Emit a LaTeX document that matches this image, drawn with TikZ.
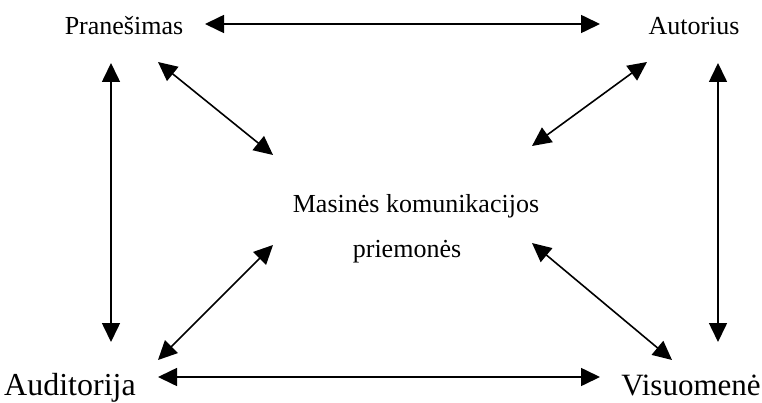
\documentclass[tikz,border=0pt]{standalone}
\usepackage{fontspec}
\setmainfont{Liberation Serif}
\usetikzlibrary{arrows.meta}
\tikzset{
  lbl/.style={inner sep=0pt, anchor=base},
  link/.style={line width=1.6pt, {Triangle[length=19pt,width=18pt]}-{Triangle[length=19pt,width=18pt]}},
}
\begin{document}
\begin{tikzpicture}[x=1pt,y=-1pt]
  \useasboundingbox (0,0) rectangle (762,403);
  % labels
  \node[lbl, font=\fontsize{26}{30}\selectfont] (pran) at (124,35) {Pranešimas};
  \node[lbl, font=\fontsize{26}{30}\selectfont] (aut) at (694,35) {Autorius};
  \node[lbl, font=\fontsize{26}{30}\selectfont] (mid1) at (416,213) {Masinės komunikacijos};
  \node[lbl, font=\fontsize{26}{30}\selectfont] (mid2) at (407,257) {priemonės};
  \node[lbl, font=\fontsize{32}{36}\selectfont] (aud) at (70,395) {Auditorija};
  \node[lbl, font=\fontsize{31}{36}\selectfont] (vis) at (691,395) {Visuomenė};
  % arrow ends
  \coordinate (pR) at (205,24);   \coordinate (aL) at (600,24);
  \coordinate (pD) at (111,63);   \coordinate (audU) at (111,342);
  \coordinate (aD) at (718,63);   \coordinate (visU) at (718,342);
  \coordinate (audR) at (158,377); \coordinate (visL) at (600,377);
  \coordinate (pDR) at (158,62);  \coordinate (mUL) at (273,155);
  \coordinate (aDL) at (647,62);  \coordinate (mUR) at (532,146);
  \coordinate (mLL) at (273,245); \coordinate (audUR) at (158,360);
  \coordinate (mLR) at (532,243); \coordinate (visUL) at (672,360);
  % connectors
  \draw[link] (pR) -- (aL);
  \draw[link] (pD) -- (audU);
  \draw[link] (aD) -- (visU);
  \draw[link] (audR) -- (visL);
  \draw[link] (pDR) -- (mUL);
  \draw[link] (aDL) -- (mUR);
  \draw[link] (mLL) -- (audUR);
  \draw[link] (mLR) -- (visUL);
\end{tikzpicture}
\end{document}
